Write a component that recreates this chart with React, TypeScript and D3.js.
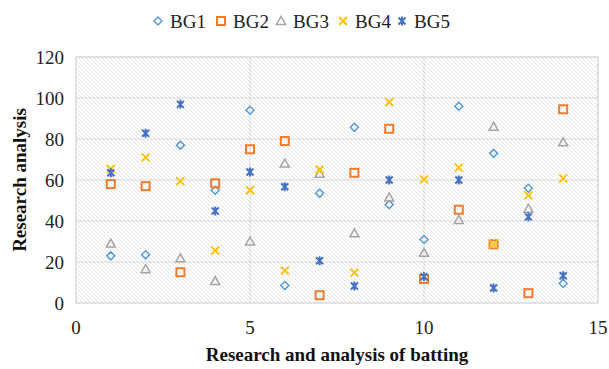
import React from "react";
import * as d3 from "d3";

const xs = [1, 2, 3, 4, 5, 6, 7, 8, 9, 10, 11, 12, 13, 14];
const bg1 = [23, 23.5, 77, 55, 94, 8.5, 53.5, 85.7, 48, 31, 96, 73, 56, 9.5];
const bg2 = [58, 57, 15, 58.4, 75, 79, 3.8, 63.5, 85, 11.7, 45.5, 28.6, 4.8, 94.5];
const bg3 = [29, 16.5, 21.8, 10.7, 30, 68, 63, 34, 51.5, 24.5, 40.5, 86, 46, 78.4];
const bg4 = [65.4, 71, 59.5, 25.5, 55, 15.8, 65, 14.8, 98, 60.3, 66, 28.6, 52.5, 60.8];
const bg5 = [63.5, 82.8, 96.9, 44.9, 63.9, 56.7, 20.6, 8.3, 60, 12.8, 60, 7.3, 42, 13.3];
const seriesNames = ["BG1", "BG2", "BG3", "BG4", "BG5"];
const xTicks = [0, 5, 10, 15];
const yTicks = [0, 20, 40, 60, 80, 100, 120];

const colors = ["#5B9BD5", "#ED7D31", "#A5A5A5", "#FFC000", "#4472C4"];
const fontStyle = { fontFamily: "Liberation Serif" };

function Marker({ kind, x, y, color }: { kind: number; x: number; y: number; color: string }) {
  const s = 4;
  if (kind === 0) {
    return <path d={`M${x},${y - s}L${x + s},${y}L${x},${y + s}L${x - s},${y}Z`} fill="none" stroke={color} strokeWidth={1.5} />;
  }
  if (kind === 1) {
    return <rect x={x - 4} y={y - 4} width={8} height={8} fill="none" stroke={color} strokeWidth={2} />;
  }
  if (kind === 2) {
    return <path d={`M${x},${y - 4.5}L${x + 4.5},${y + 3.5}L${x - 4.5},${y + 3.5}Z`} fill="none" stroke={color} strokeWidth={1.5} />;
  }
  if (kind === 3) {
    return <path d={`M${x - 4},${y - 4}L${x + 4},${y + 4}M${x - 4},${y + 4}L${x + 4},${y - 4}`} stroke={color} strokeWidth={1.8} />;
  }
  return (
    <path
      d={`M${x - 3.5},${y - 3.5}L${x + 3.5},${y + 3.5}M${x - 3.5},${y + 3.5}L${x + 3.5},${y - 3.5}M${x},${y - 4.5}L${x},${y + 4.5}`}
      stroke={color}
      strokeWidth={2}
    />
  );
}

export default function App() {
  const W = 609, H = 369;
  const left = 76, right = 598, top = 57, bottom = 303;
  const x = d3.scaleLinear().domain([0, 15]).range([left, right]);
  const y = d3.scaleLinear().domain([0, 120]).range([bottom, top]);
  const series = [bg1, bg2, bg3, bg4, bg5];
  const legendX = [158, 221, 281, 343, 402];

  return (
    <svg width={W} height={H} style={{ position: "absolute", left: 0, top: 0, background: "#fff" }}>
      <defs>
        <pattern id="hatch" patternUnits="userSpaceOnUse" width={4} height={4}>
          <rect width={4} height={4} fill="#fff" />
          <path d="M-1,-1L5,5M-1,3L1,5M3,-1L5,1" stroke="#dedede" strokeWidth={0.8} />
        </pattern>
      </defs>
      <rect x={left} y={top} width={right - left} height={bottom - top} fill="url(#hatch)" stroke="#d9d9d9" strokeWidth={1} />
      {yTicks.map((t) => (
        <line key={"gy" + t} x1={left} x2={right} y1={y(t)} y2={y(t)} stroke="#d9d9d9" strokeWidth={1} />
      ))}
      {xTicks.map((t) => (
        <line key={"gx" + t} x1={x(t)} x2={x(t)} y1={top} y2={bottom} stroke="#d9d9d9" strokeWidth={1} />
      ))}
      {yTicks.map((t) => (
        <text key={"ty" + t} x={64} y={y(t)} dy="0.35em" textAnchor="end" fontSize={19} fill="#222" style={fontStyle}>
          {t}
        </text>
      ))}
      {xTicks.map((t) => (
        <text key={"tx" + t} x={x(t)} y={334} textAnchor="middle" fontSize={19} fill="#222" style={fontStyle}>
          {t}
        </text>
      ))}
      <text x={337} y={361} textAnchor="middle" fontSize={19} fontWeight="bold" fill="#111" style={fontStyle}>
        Research and analysis of batting
      </text>
      <text transform={`translate(26,180) rotate(-90)`} textAnchor="middle" fontSize={19} fontWeight="bold" fill="#111" style={fontStyle}>
        Research analysis
      </text>
      {series.map((vals, si) =>
        vals.map((v, i) => <Marker key={si + "-" + i} kind={si} x={x(xs[i])} y={y(v)} color={colors[si]} />)
      )}
      {seriesNames.map((n, i) => (
        <g key={n}>
          <Marker kind={i} x={legendX[i]} y={21} color={colors[i]} />
          <text x={legendX[i] + 12} y={21} dy="0.35em" fontSize={19} fill="#222" style={fontStyle}>
            {n}
          </text>
        </g>
      ))}
    </svg>
  );
}
